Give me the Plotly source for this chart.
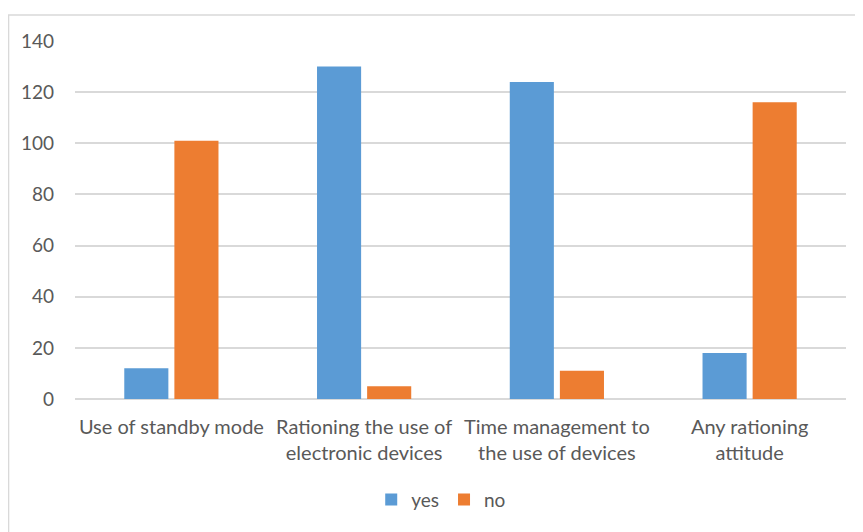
import plotly.graph_objects as go

categories = ["Use of standby mode", "Rationing the use of<br>electronic devices",
              "Time management to<br>the use of devices", "Any rationing<br>attitude"]
yes_values = [12, 130, 124, 18]
no_values = [101, 5, 11, 116]
y_ticks = [0, 20, 40, 60, 80, 100, 120, 140]

BLUE = "#5B9BD5"
ORANGE = "#ED7D31"
TEXT = "#595959"
GRID = "#D9D9D9"
FONT = "Lato, Carlito, Calibri, sans-serif"

fig = go.Figure()
fig.add_trace(go.Bar(name="yes", x=categories, y=yes_values, marker=dict(color=BLUE, line=dict(width=0))))
fig.add_trace(go.Bar(name="no", x=categories, y=no_values, marker=dict(color=ORANGE, line=dict(width=0))))

# page body has an 8px default margin, so margins are compensated by 8px
fig.update_layout(
    width=863, height=532,
    margin=dict(l=67, r=25, t=33, b=141, autoexpand=False),
    paper_bgcolor="white", plot_bgcolor="white",
    barmode="group", bargap=0.48, bargroupgap=0.12,
    font=dict(family=FONT, color=TEXT, size=19),
    showlegend=True,
    legend=dict(orientation="h", x=0.475, xanchor="center", y=-0.281, yanchor="middle",
                font=dict(size=19, color=TEXT), itemwidth=30, traceorder="normal"),
    xaxis=dict(showgrid=False, showline=False, ticks="", automargin=False,
               tickfont=dict(size=20, color=TEXT), ticklabelstandoff=14),
    yaxis=dict(range=[0, 140], tickvals=y_ticks, showgrid=True, gridcolor=GRID, gridwidth=1.5,
               zeroline=True, zerolinecolor=GRID, zerolinewidth=1.5, showline=False, automargin=False,
               tickfont=dict(size=19, color=TEXT), ticklabelstandoff=20),
    shapes=[dict(type="rect", xref="paper", yref="paper",
                 x0=-0.0862, x1=1.03, y0=-0.40, y1=1.0726,
                 line=dict(color="#D9D9D9", width=1.5), fillcolor="rgba(0,0,0,0)", layer="below")],
)

fig.write_html("out.html")
